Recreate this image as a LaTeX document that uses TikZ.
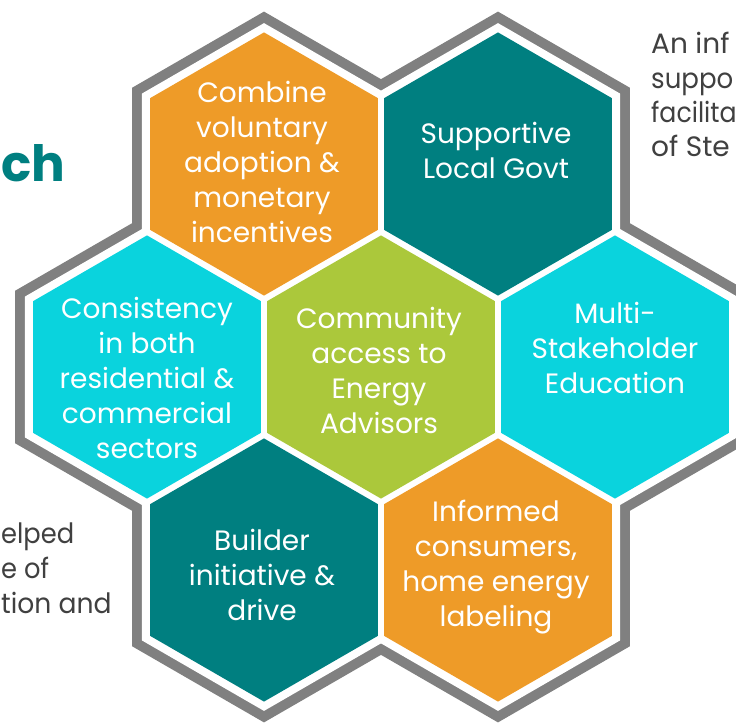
\documentclass[tikz,border=0pt]{standalone}
\usepackage{fontspec}
\setmainfont{Poppins}
\definecolor{hexorange}{HTML}{EE9B28}
\definecolor{hexteal}{HTML}{007F80}
\definecolor{hexcyan}{HTML}{0AD3DD}
\definecolor{hexgreen}{HTML}{ABC83B}
\definecolor{rimgray}{HTML}{808080}
\definecolor{sidegray}{HTML}{404040}
\tikzset{
  hextext/.style={text=white, font=\fontsize{28}{35}\selectfont, align=center, inner sep=0pt},
  sidetext/.style={text=sidegray, font=\fontsize{28}{35}\selectfont, inner sep=0pt},
  titletext/.style={text=hexteal, font=\fontsize{50}{50}\selectfont\bfseries, inner sep=0pt}
}
\newcommand\hexshape[4]{\fill[#4] (#1,#2) +(90:#3) -- +(150:#3) -- +(210:#3) -- +(270:#3) -- +(330:#3) -- +(30:#3) -- cycle;}
\begin{document}
\begin{tikzpicture}[x=1pt,y=-1pt]
\useasboundingbox (0,0) rectangle (736,723);
\clip (0,0) rectangle (736,723);
\fill[white] (0,0) rectangle (736,723);
% outer gray rim
\foreach \cx/\cy in {264/164,498/164,147/367,381/367,615/367,264/570,498/570}
  {\hexshape{\cx}{\cy}{152.4}{rimgray}}
% white band
\foreach \cx/\cy in {264/164,498/164,147/367,381/367,615/367,264/570,498/570}
  {\hexshape{\cx}{\cy}{140.9}{white}}
% coloured hexagons
\hexshape{264}{164}{131.6}{hexorange}
\hexshape{498}{164}{131.6}{hexteal}
\hexshape{147}{367}{131.6}{hexcyan}
\hexshape{381}{367}{131.6}{hexgreen}
\hexshape{615}{367}{131.6}{hexcyan}
\hexshape{264}{570}{131.6}{hexteal}
\hexshape{498}{570}{131.6}{hexorange}
% hexagon texts
\node[hextext] (combine) at (262,162) {Combine\\voluntary\\adoption \&\\monetary\\incentives};
\node[hextext] (govt) at (496,150) {Supportive\\Local Govt};
\node[hextext] (consist) at (147,378) {Consistency\\in both\\residential \&\\commercial\\sectors};
\node[hextext] (advisors) at (379,370) {Community\\access to\\Energy\\Advisors};
\node[hextext] (edu) at (615,348) {Multi-\\Stakeholder\\Education};
\node[hextext] (builder) at (262,575) {Builder\\initiative \&\\drive};
\node[hextext] (informed) at (496,567) {Informed\\consumers,\\home energy\\labeling};
% partial side texts
\node[titletext, anchor=base west] (title) at (1,181) {ch};
\node[sidetext, anchor=base west] (r1) at (651,53) {An inf};
\node[sidetext, anchor=base west, xscale=0.93, transform shape] (r2) at (651,88) {suppo};
\node[sidetext, anchor=base west, xscale=0.9, transform shape] (r3) at (651,122) {facilita};
\node[sidetext, anchor=base west] (r4) at (651,156) {of Ste};
\node[sidetext, anchor=base west, xscale=0.92, transform shape] (l1) at (1,543) {elped};
\node[sidetext, anchor=base west, xscale=0.92, transform shape] (l2) at (1,578) {e of};
\node[sidetext, anchor=base west, xscale=0.95, transform shape] (l3) at (1,613) {tion and};
\end{tikzpicture}
\end{document}
